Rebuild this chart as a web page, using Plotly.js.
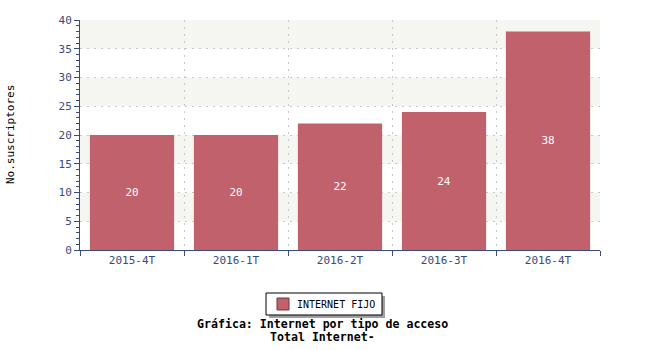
<!DOCTYPE html>
<html><head><meta charset="utf-8">
<script src="https://cdn.plot.ly/plotly-3.0.1.min.js"></script>
<style>body{margin:0;background:#fff}#chart{width:650px;height:350px}</style>
</head><body><div id="chart"></div>
<script>
const categories = ["2015-4T", "2016-1T", "2016-2T", "2016-3T", "2016-4T"];
const values = [20, 20, 22, 24, 38];
const seriesName = "INTERNET FIJO";
const yTitle = "No.suscriptores";
const titleLines = ["Gráfica: Internet por tipo de acceso", "Total Internet-"];
const bandStarts = [5, 15, 25, 35];

const mono = "DejaVu Sans Mono, monospace";
const axisColor = "#3a4a7a";
const barColor = "#c0616b";
const L = 80, R = 50, T = 20, B = 100, W = 650, H = 350;
const pw = W - L - R, ph = H - T - B;
const px = x => (x - L) / pw;          // pixel x -> paper
const py = y => (T + ph - y) / ph;     // pixel y -> paper

const shapes = bandStarts.map(b => ({
  type: "rect", xref: "paper", yref: "y", x0: 0, x1: 1, y0: b, y1: b + 5,
  fillcolor: "#f5f5f1", line: {width: 0}, layer: "below"
}));

// legend box (drawn with shapes): shadow, box, swatch
const lg = {x0: 266, x1: 382, y0: 293, y1: 315};
shapes.push(
  {type: "rect", xref: "paper", yref: "paper", x0: px(lg.x0 + 3), x1: px(lg.x1 + 3), y0: py(lg.y1 + 3), y1: py(lg.y0 + 3),
   fillcolor: "#a0a0a0", line: {width: 0}, layer: "above"},
  {type: "rect", xref: "paper", yref: "paper", x0: px(lg.x0), x1: px(lg.x1), y0: py(lg.y1), y1: py(lg.y0),
   fillcolor: "#ffffff", line: {width: 1, color: "#000"}, layer: "above"},
  {type: "rect", xref: "paper", yref: "paper", x0: px(277), x1: px(289), y0: py(310), y1: py(298),
   fillcolor: barColor, line: {width: 1, color: "#6a3a40"}, layer: "above"}
);

const trace = {
  type: "bar", x: categories, y: values, name: seriesName,
  marker: {color: barColor, line: {width: 0}},
  width: 0.81,
  text: values.map(String), textposition: "inside", insidetextanchor: "middle",
  textfont: {color: "#ffffff", family: mono, size: 11},
  hoverinfo: "none", showlegend: false
};

const layout = {
  width: W, height: H,
  margin: {l: L, r: R, t: T, b: B},
  paper_bgcolor: "#fff", plot_bgcolor: "rgba(0,0,0,0)",
  font: {family: mono, size: 11, color: axisColor},
  xaxis: {
    type: "category", tickson: "boundaries", ticks: "outside", ticklen: 5,
    tickcolor: axisColor, showline: true, linecolor: axisColor, linewidth: 1,
    showgrid: true, gridcolor: "#c8c8c8", griddash: "2px,5px", gridwidth: 1,
    tickfont: {family: mono, size: 11, color: axisColor}, fixedrange: true
  },
  yaxis: {
    range: [0, 40], dtick: 5, ticks: "outside", ticklen: 5, tickcolor: axisColor,
    showline: true, linecolor: axisColor, linewidth: 1,
    showgrid: true, gridcolor: "#c8c8c8", griddash: "2px,5px", gridwidth: 1,
    zeroline: false,
    minor: {dtick: 1, ticks: "outside", ticklen: 3, tickcolor: axisColor, showgrid: false},
    tickfont: {family: mono, size: 11, color: axisColor}, fixedrange: true
  },
  shapes: shapes,
  showlegend: false,
  annotations: [
    {xref: "paper", yref: "paper", x: px(295), y: py(304), showarrow: false,
     text: seriesName, font: {family: mono, size: 10, color: "#000"}, xanchor: "left", yanchor: "middle"},
    {xref: "paper", yref: "paper", x: px(10), y: 0.5, textangle: -90, showarrow: false,
     text: yTitle, font: {family: mono, size: 11, color: "#000"}, xanchor: "center", yanchor: "middle"},
    {xref: "paper", yref: "paper", x: px(322), y: py(324), showarrow: false,
     text: "<b>" + titleLines[0] + "</b>", font: {family: mono, size: 11.6, color: "#000"}, xanchor: "center", yanchor: "middle"},
    {xref: "paper", yref: "paper", x: px(322), y: py(337), showarrow: false,
     text: "<b>" + titleLines[1] + "</b>", font: {family: mono, size: 11.6, color: "#000"}, xanchor: "center", yanchor: "middle"}
  ]
};

Plotly.newPlot("chart", [trace], layout, {displayModeBar: false, staticPlot: true});
</script></body></html>
